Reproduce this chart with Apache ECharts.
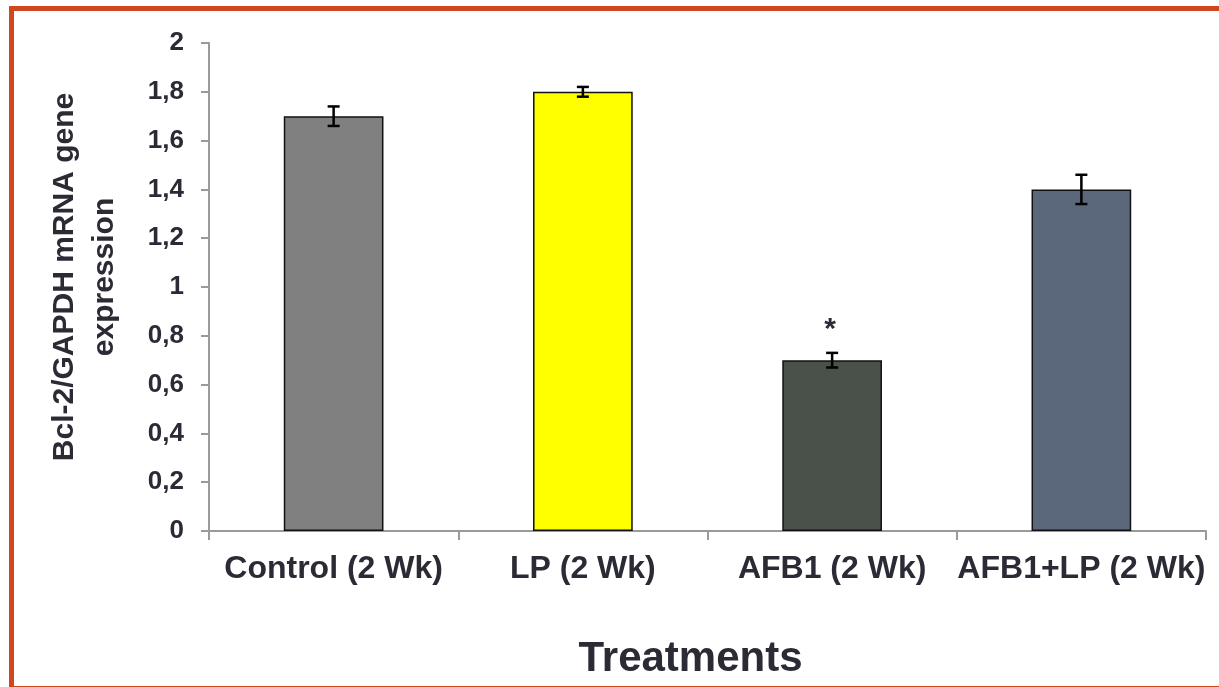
<!DOCTYPE html>
<html>
<head>
<meta charset="utf-8">
<script src="https://cdn.jsdelivr.net/npm/echarts@6/dist/echarts.min.js"></script>
<style>
  html, body { margin: 0; padding: 0; background: #fff; }
  #main { width: 1219px; height: 687px; }
</style>
</head>
<body>
<div id="main"></div>
<script>
// data
var categories = ['Control (2 Wk)', 'LP (2 Wk)', 'AFB1 (2 Wk)', 'AFB1+LP (2 Wk)'];
var values = [1.7, 1.8, 0.7, 1.4];
var errors = [0.04, 0.02, 0.03, 0.06];
var marks = ['', '', '*', ''];
var barColors = ['#808080', '#ffff00', '#4a514b', '#5b687b'];

var FONT = '"Liberation Sans", Arial, sans-serif';
var TXT = '#2b2b36';

var chart = echarts.init(document.getElementById('main'));

var errData = values.map(function (v, i) {
    return [i, v - errors[i], v + errors[i]];
});

var option = {
    animation: false,
    backgroundColor: '#fff',
    grid: { left: 209, top: 43, right: 13, bottom: 156 },
    graphic: [{
        type: 'rect',
        shape: { x: 11.5, y: 8.5, width: 1240, height: 680 },
        style: { fill: null, stroke: '#d0461f', lineWidth: 5 },
        silent: true
    }],
    xAxis: {
        type: 'category',
        data: categories,
        name: 'Treatments',
        nameLocation: 'middle',
        nameGap: 107,
        nameTextStyle: { fontFamily: FONT, fontWeight: 'bold', fontSize: 42, color: TXT, padding: [0, 34, 0, 0] },
        axisLine: { lineStyle: { color: '#9a9a9a', width: 2 } },
        axisTick: { show: true, length: 9, lineStyle: { color: '#9a9a9a', width: 2 } },
        axisLabel: { fontFamily: FONT, fontWeight: 'bold', fontSize: 32, color: TXT, margin: 22, interval: 0 }
    },
    yAxis: {
        type: 'value',
        min: 0, max: 2, interval: 0.2,
        name: 'Bcl-2/GAPDH mRNA gene\nexpression',
        nameLocation: 'middle',
        nameGap: 84,
        nameTextStyle: { fontFamily: FONT, fontWeight: 'bold', fontSize: 30, color: TXT, lineHeight: 40, padding: [0, 0, 0, 20] },
        splitLine: { show: false },
        axisLine: { show: true, lineStyle: { color: '#9a9a9a', width: 2 } },
        axisTick: { show: true, length: 8, lineStyle: { color: '#9a9a9a', width: 2 } },
        axisLabel: {
            fontFamily: FONT, fontWeight: 'bold', fontSize: 26, color: TXT, margin: 25,
            formatter: function (v) { return String(+v.toFixed(1)).replace('.', ','); }
        }
    },
    series: [{
        type: 'bar',
        barWidth: '40%',
        data: values.map(function (v, i) {
            return { value: v, itemStyle: { color: barColors[i], borderColor: '#111', borderWidth: 1.5 } };
        }),
        z: 2
    }, {
        type: 'custom',
        data: errData,
        z: 5,
        renderItem: function (params, api) {
            var lo = api.coord([api.value(0), api.value(1)]);
            var hi = api.coord([api.value(0), api.value(2)]);
            var x = lo[0];
            var cap = 6;
            var st = { stroke: '#000', lineWidth: 2.5 };
            var kids = [
                { type: 'line', shape: { x1: x, y1: lo[1], x2: x, y2: hi[1] }, style: st },
                { type: 'line', shape: { x1: x - cap, y1: lo[1], x2: x + cap, y2: lo[1] }, style: st },
                { type: 'line', shape: { x1: x - cap, y1: hi[1], x2: x + cap, y2: hi[1] }, style: st }
            ];
            var m = marks[params.dataIndex];
            if (m) {
                kids.push({
                    type: 'text',
                    style: {
                        text: m, x: x - 2, y: hi[1] - 8,
                        align: 'center', verticalAlign: 'bottom',
                        font: 'bold 30px ' + FONT, fill: TXT
                    }
                });
            }
            return { type: 'group', children: kids };
        }
    }]
};

chart.setOption(option);
</script>
</body>
</html>
